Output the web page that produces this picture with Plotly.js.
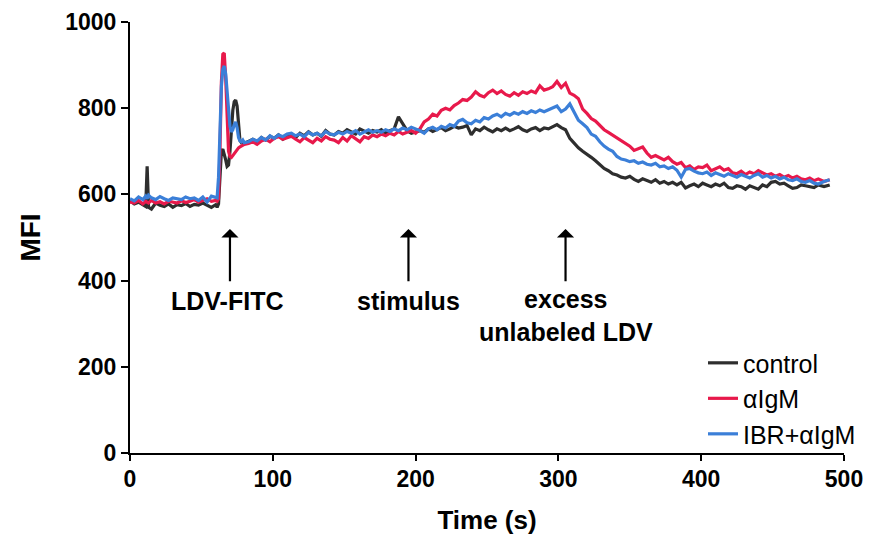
<!DOCTYPE html>
<html>
<head>
<meta charset="utf-8">
<script src="https://cdn.plot.ly/plotly-3.0.1.min.js"></script>
<style>html,body{margin:0;padding:0;background:#fff;}#chart{width:882px;height:544px;}</style>
</head>
<body>
<div id="chart"></div>
<script>
// Time (s)
const time = [
  0,3,6,9,11,12,13,15,18,21,
  24,27,30,33,36,39,42,45,48,51,
  54,57,60,
  61,62,63,64,65,66,67,68,69,70,
  71,72,73,74,75,76,77,78,79,80,
  83,86,89,92,95,98,101,104,107,110,
  113,116,119,122,125,128,131,134,137,140,
  143,146,149,152,155,158,161,164,167,170,
  173,176,179,182,185,188,191,194,197,200,
  203,206,209,212,215,218,221,224,227,230,
  233,236,239,242,245,248,251,254,257,260,
  263,266,269,272,275,278,281,284,287,290,
  293,296,299,302,305,308,311,314,317,320,
  323,326,329,332,335,338,341,344,347,350,
  353,356,359,362,365,368,371,374,377,380,
  383,386,389,392,395,398,401,404,407,410,
  413,416,419,422,425,428,431,434,437,440,
  443,446,449,452,455,458,461,464,467,470,
  473,476,479,482,486,490
];
// MFI, control
const control = [
  585,578,582,575,572,665,570,566,580,575,
  572,578,570,576,574,579,572,577,575,580,
  574,570,576,
  570,578,660,700,705,695,680,665,668,700,
  750,795,815,819,805,760,725,720,722,718,
  724,728,722,732,726,735,730,738,728,734,
  740,732,742,736,745,738,742,735,748,740,
  738,746,742,750,744,740,752,746,742,748,
  745,750,742,748,752,780,765,748,742,745,
  748,744,752,746,750,755,748,752,758,754,
  756,760,738,752,748,756,750,745,752,748,
  754,748,752,757,750,746,752,755,748,754,
  752,758,762,755,750,730,718,708,700,694,
  686,678,670,660,655,648,645,640,638,642,
  635,630,636,632,628,634,626,630,624,628,
  622,628,615,620,624,618,626,622,618,624,
  620,626,616,614,620,618,612,620,616,612,
  622,618,628,630,624,626,620,614,616,622,
  620,618,616,622,618,622
];
// MFI, αIgM
const aIgM = [
  582,580,586,578,584,582,580,586,580,583,
  578,584,582,580,585,581,584,588,582,586,
  590,584,586,
  584,590,700,860,925,928,870,760,700,688,
  686,690,695,700,705,708,710,712,714,716,
  718,722,716,724,728,722,730,734,728,732,
  735,728,722,732,726,720,730,724,734,728,
  726,720,732,724,736,728,722,734,730,738,
  734,740,736,742,738,746,740,744,748,742,
  752,768,775,786,782,795,800,796,806,812,
  820,818,826,838,830,826,836,842,834,840,
  832,828,836,830,838,834,840,836,852,842,
  845,850,862,848,858,835,830,822,798,788,
  776,770,760,750,744,738,730,725,720,712,
  702,706,710,696,686,690,684,680,686,676,
  670,674,662,666,658,664,662,668,655,660,
  664,656,660,650,648,654,646,652,648,655,
  650,645,648,642,646,640,644,638,642,636,
  634,638,632,636,630,634
];
// MFI, IBR+αIgM
const ibrAIgM = [
  590,585,594,588,596,590,598,592,588,595,
  590,586,592,590,588,594,590,592,586,594,
  582,596,592,
  592,640,760,850,890,898,880,835,790,758,
  745,750,762,768,755,732,724,722,726,720,
  722,728,724,732,726,736,730,738,734,740,
  742,736,740,734,744,738,742,736,746,740,
  738,744,740,746,742,748,740,745,750,744,
  748,744,750,746,752,748,754,750,756,752,
  748,742,752,756,750,758,754,762,758,770,
  774,766,764,772,768,778,775,782,786,780,
  788,784,790,786,792,788,794,790,796,792,
  796,800,805,792,798,810,790,772,764,755,
  740,735,722,712,705,700,688,682,680,676,
  678,672,675,670,668,672,664,666,660,664,
  656,640,658,660,654,650,648,652,644,650,
  646,642,648,644,640,646,642,638,644,648,
  640,644,638,642,636,640,634,632,636,630,
  628,632,626,624,630,634
];
const seriesNames = ['control', 'αIgM', 'IBR+αIgM'];
const xTicks = [0, 100, 200, 300, 400, 500];
const yTicks = [0, 200, 400, 600, 800, 1000];
// event markers
const eventTimes = [70, 195, 305];
const arrowTipMFI = 520;
const arrowTailMFI = 395;
const eventLabels = ['LDV-FITC', 'stimulus', 'excess<br>unlabeled LDV'];
const eventLabelX = [68, 195, 305];
const eventLabelY = [353, 353, 320];

const colors = ['#2e2e2e', '#e8194b', '#3b7fd8'];
const ys = [control, aIgM, ibrAIgM];

const traces = ys.map((y, i) => ({
  type: 'scatter', mode: 'lines', x: time, y: y, name: seriesNames[i],
  line: {color: colors[i], width: 3.2}
}));

const bold = 'Liberation Sans, Arial, sans-serif';

const annotations = [];
eventTimes.forEach(t => {
  annotations.push({
    x: t, y: arrowTipMFI, ax: t, ay: arrowTailMFI,
    xref: 'x', yref: 'y', axref: 'x', ayref: 'y',
    text: '', showarrow: true, arrowhead: 1, arrowsize: 1.3, arrowwidth: 2.2, arrowcolor: '#000'
  });
});
eventLabels.forEach((lab, i) => {
  annotations.push({
    x: eventLabelX[i], y: eventLabelY[i], xref: 'x', yref: 'y',
    text: lab, showarrow: false,
    font: {family: bold, size: 25, color: '#000', weight: 'bold'}
  });
});

const layout = {
  width: 882, height: 544,
  margin: {l: 130, r: 38, t: 22, b: 91},
  paper_bgcolor: '#fff', plot_bgcolor: '#fff',
  showlegend: true,
  legend: {
    x: 0.8025, y: 0.262, xanchor: 'left', yanchor: 'top',
    font: {family: bold, size: 25, color: '#000'},
    itemwidth: 30, bgcolor: 'rgba(0,0,0,0)'
  },
  xaxis: {
    range: [0, 500], tickvals: xTicks, ticktext: xTicks.map(String),
    ticks: 'outside', ticklen: 6, tickwidth: 2, tickcolor: '#000',
    ticklabelstandoff: -2,
    showline: true, linewidth: 2, linecolor: '#000',
    showgrid: false, zeroline: false,
    tickfont: {family: bold, size: 23, color: '#000', weight: 'bold'},
    title: {text: 'Time (s)', font: {family: bold, size: 26, color: '#000', weight: 'bold'}, standoff: 20}
  },
  yaxis: {
    range: [0, 1000], tickvals: yTicks, ticktext: yTicks.map(String),
    ticks: 'outside', ticklen: 7, tickwidth: 2, tickcolor: '#000',
    showline: true, linewidth: 2, linecolor: '#000',
    showgrid: false, zeroline: false,
    tickfont: {family: bold, size: 23, color: '#000', weight: 'bold'},
    title: {text: 'MFI', font: {family: bold, size: 28, color: '#000', weight: 'bold'}, standoff: 16}
  },
  annotations: annotations
};

Plotly.newPlot('chart', traces, layout, {displayModeBar: false, staticPlot: true});
</script>
</body>
</html>
